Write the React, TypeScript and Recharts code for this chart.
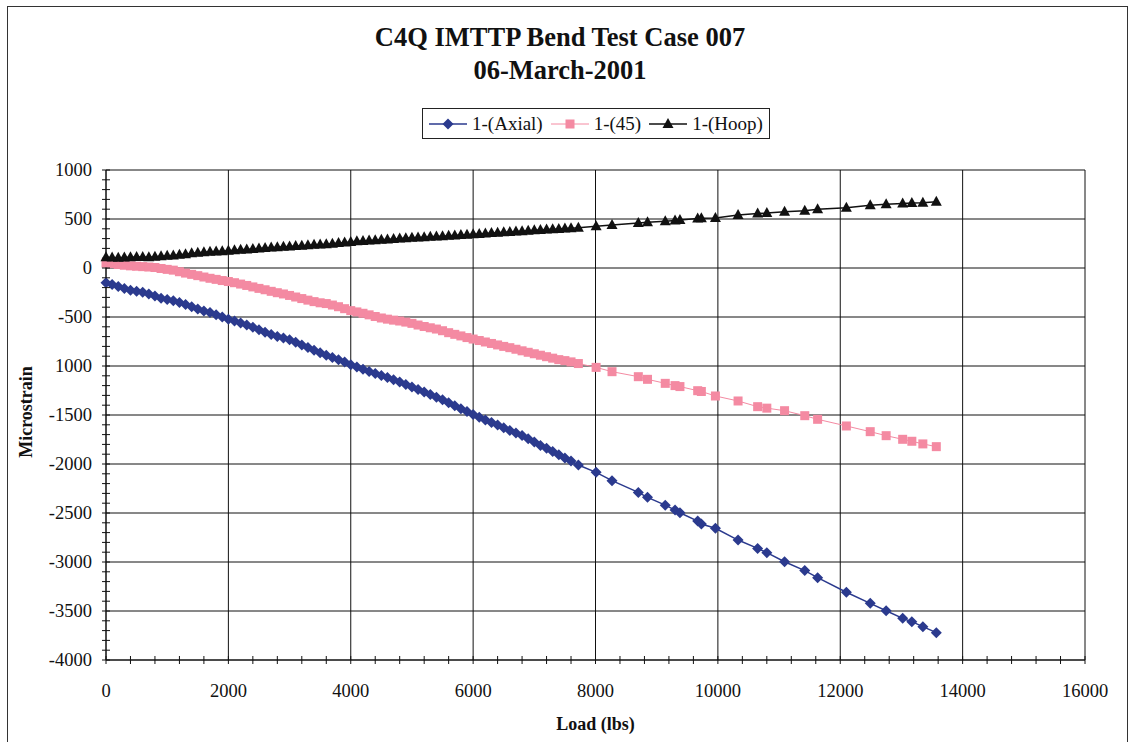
import {
  CartesianGrid,
  Line,
  LineChart,
  XAxis,
  YAxis,
} from "recharts";

// Load (lbs) readings, shared by the three gauges
const loads = [
  0, 100, 200, 300, 400, 500, 600, 700, 800, 900, 1000, 1100, 1200, 1300,
  1400, 1500, 1600, 1700, 1800, 1900, 2000, 2100, 2200, 2300, 2400, 2500,
  2600, 2700, 2800, 2900, 3000, 3100, 3200, 3300, 3400, 3500, 3600, 3700,
  3800, 3900, 4000, 4100, 4200, 4300, 4400, 4500, 4600, 4700, 4800, 4900,
  5000, 5100, 5200, 5300, 5400, 5500, 5600, 5700, 5800, 5900, 6000, 6100,
  6200, 6300, 6400, 6500, 6600, 6700, 6800, 6900, 7000, 7100, 7200, 7300,
  7400, 7500, 7600, 7720, 8010, 8270, 8700, 8850, 9140, 9300, 9380, 9670,
  9730, 9960, 10330, 10650, 10800, 11090, 11420, 11630, 12100, 12490, 12750,
  13020, 13170, 13350, 13570,
];

const axial = [
  -150, -168, -188, -210, -228, -238, -248, -265, -285, -308, -322, -335,
  -352, -372, -395, -418, -438, -455, -478, -500, -522, -540, -560, -582,
  -604, -630, -655, -678, -698, -715, -733, -758, -785, -812, -840, -865,
  -890, -912, -935, -960, -988, -1010, -1033, -1055, -1077, -1098, -1118,
  -1140, -1163, -1190, -1215, -1240, -1265, -1290, -1318, -1345, -1375,
  -1405, -1435, -1465, -1495, -1522, -1550, -1577, -1603, -1630, -1657,
  -1683, -1710, -1742, -1775, -1810, -1840, -1872, -1905, -1938, -1970,
  -2010, -2085, -2170, -2290, -2340, -2420, -2470, -2497, -2582, -2612,
  -2656, -2776, -2861, -2905, -2997, -3088, -3160, -3309, -3422, -3497,
  -3575, -3609, -3660, -3721,
];

const deg45 = [
  50, 44, 36, 28, 22, 18, 14, 10, 5, -5, -14, -22, -38, -52, -65, -78, -92,
  -105, -116, -128, -138, -150, -164, -178, -193, -208, -222, -238, -252,
  -265, -280, -296, -312, -328, -343, -355, -363, -378, -395, -415, -435,
  -448, -462, -478, -495, -510, -522, -532, -541, -552, -565, -582, -597,
  -610, -623, -640, -660, -677, -693, -710, -725, -740, -755, -770, -785,
  -800, -813, -829, -845, -860, -875, -890, -905, -920, -935, -945, -958,
  -975, -1014, -1058, -1109, -1136, -1177, -1200, -1210, -1252, -1260,
  -1306, -1357, -1415, -1430, -1456, -1507, -1544, -1612, -1670, -1711,
  -1748, -1768, -1795, -1823,
];

const hoop = [
  110, 106, 105, 108, 110, 112, 111, 110, 115, 120, 124, 128, 134, 141, 150,
  155, 160, 165, 168, 172, 177, 182, 187, 190, 194, 199, 203, 208, 212, 216,
  220, 224, 228, 232, 236, 240, 243, 248, 255, 260, 265, 272, 276, 280, 284,
  288, 292, 296, 300, 304, 308, 311, 315, 318, 321, 325, 328, 332, 336, 340,
  344, 348, 352, 356, 360, 364, 368, 372, 376, 380, 384, 388, 392, 395, 398,
  402, 406, 410, 425, 440, 460, 468, 478, 485, 490, 505, 507, 510, 540, 555,
  560, 575, 585, 600, 615, 640, 650, 658, 662, 665, 675,
];

const X_DOMAIN: [number, number] = [0, 16000];
const Y_DOMAIN: [number, number] = [-4000, 1000];

const xMajorTicks = [0, 2000, 4000, 6000, 8000, 10000, 12000, 14000, 16000];
const yMajorTicks = [1000, 500, 0, -500, -1000, -1500, -2000, -2500, -3000, -3500, -4000];
// labels as printed on the scanned sheet
const yTickLabels: Record<number, string> = {
  1000: "1000",
  500: "500",
  0: "0",
  [-500]: "-500",
  [-1000]: "1000",
  [-1500]: "-1500",
  [-2000]: "-2000",
  [-2500]: "-2500",
  [-3000]: "-3000",
  [-3500]: "-3500",
  [-4000]: "-4000",
};

const xMinorTicks = Array.from({ length: 41 }, (_, i) => i * 400);
const yMinorTicks = Array.from({ length: 51 }, (_, i) => 1000 - i * 100);

const data = loads.map((load, i) => ({
  load,
  axial: axial[i],
  deg45: deg45[i],
  hoop: hoop[i],
}));

const BLUE = "#2b3a8e";
const PINK = "#f48aa2";
const INK = "#111111";
const FONT = '"Liberation Serif", "Times New Roman", serif';
const TICK_MARGIN = 10;

function Diamond({ cx, cy, fill }: any) {
  if (cx == null || cy == null) return null;
  return (
    <polygon
      points={`${cx},${cy - 5.5} ${cx + 5.5},${cy} ${cx},${cy + 5.5} ${cx - 5.5},${cy}`}
      fill={fill}
    />
  );
}

function Square({ cx, cy, fill }: any) {
  if (cx == null || cy == null) return null;
  return <rect x={cx - 4.5} y={cy - 4.5} width={9} height={9} fill={fill} />;
}

function Triangle({ cx, cy, fill }: any) {
  if (cx == null || cy == null) return null;
  return (
    <polygon
      points={`${cx},${cy - 6} ${cx + 5.5},${cy + 4} ${cx - 5.5},${cy + 4}`}
      fill={fill}
    />
  );
}

function XTick({ x, y, payload }: any) {
  const axisY = y - TICK_MARGIN;
  const major = payload.value % 2000 === 0;
  return (
    <g>
      <line x1={x} x2={x} y1={axisY - 4} y2={axisY + 4} stroke={INK} />
      {major && (
        <text
          x={x}
          y={axisY + 37}
          textAnchor="middle"
          style={{ fontFamily: FONT, fontSize: 18.5 }}
          fill={INK}
        >
          {payload.value}
        </text>
      )}
    </g>
  );
}

function YTick({ x, y, payload }: any) {
  const axisX = x + TICK_MARGIN;
  const label = yTickLabels[payload.value];
  return (
    <g>
      <line x1={axisX - 4} x2={axisX + 4} y1={y} y2={y} stroke={INK} />
      {label !== undefined && (
        <text
          x={axisX - 14}
          y={y + 6}
          textAnchor="end"
          style={{ fontFamily: FONT, fontSize: 18.5 }}
          fill={INK}
        >
          {label}
        </text>
      )}
    </g>
  );
}

// major grid positions, from the axis scale when available, else from the plot offset
function gridX({ xAxis, offset }: any): number[] {
  if (xAxis && typeof xAxis.scale === "function") {
    return xMajorTicks.map((v) => xAxis.scale(v));
  }
  const [lo, hi] = X_DOMAIN;
  return xMajorTicks.map(
    (v) => offset.left + ((v - lo) / (hi - lo)) * offset.width,
  );
}

function gridY({ yAxis, offset }: any): number[] {
  if (yAxis && typeof yAxis.scale === "function") {
    return yMajorTicks.map((v) => yAxis.scale(v));
  }
  const [lo, hi] = Y_DOMAIN;
  return yMajorTicks.map(
    (v) => offset.top + ((hi - v) / (hi - lo)) * offset.height,
  );
}

const legendItems = [
  { name: "1-(Axial)", color: BLUE, Marker: Diamond, lineWidth: 1.5 },
  { name: "1-(45)", color: PINK, Marker: Square, lineWidth: 1 },
  { name: "1-(Hoop)", color: INK, Marker: Triangle, lineWidth: 1.5 },
];

function LegendBox() {
  return (
    <div
      style={{
        position: "absolute",
        left: 422,
        top: 108,
        display: "flex",
        alignItems: "center",
        border: "1px solid #222",
        padding: "2px 6px 2px 4px",
        background: "#fff",
        fontFamily: FONT,
        fontSize: 19,
        lineHeight: "25px",
        color: INK,
      }}
    >
      {legendItems.map(({ name, color, Marker, lineWidth }, i) => (
        <span
          key={name}
          style={{
            display: "flex",
            alignItems: "center",
            marginRight: i < legendItems.length - 1 ? 6 : 0,
          }}
        >
          <svg width={42} height={14}>
            <line
              x1={2}
              x2={40}
              y1={7}
              y2={7}
              stroke={color}
              strokeWidth={lineWidth}
            />
            <Marker cx={21} cy={7} fill={color} />
          </svg>
          <span style={{ marginLeft: 3 }}>{name}</span>
        </span>
      ))}
    </div>
  );
}

export default function App() {
  return (
    <div
      style={{
        position: "absolute",
        left: 0,
        top: 0,
        width: 1129,
        height: 742,
        background: "#fff",
        overflow: "hidden",
        fontFamily: FONT,
      }}
    >
      <div
        style={{
          position: "absolute",
          left: 7,
          top: 6,
          width: 1119,
          height: 760,
          border: "1px solid #333",
        }}
      />

      <div
        style={{
          position: "absolute",
          left: 0,
          top: 21,
          width: 1120,
          textAlign: "center",
          fontWeight: 700,
          fontSize: 26.5,
          lineHeight: "33px",
          color: INK,
        }}
      >
        <div>C4Q IMTTP Bend Test Case 007</div>
        <div>06-March-2001</div>
      </div>

      <div
        style={{
          position: "absolute",
          left: 0,
          top: 714,
          width: 1191,
          textAlign: "center",
          fontWeight: 700,
          fontSize: 18,
          color: INK,
        }}
      >
        Load (lbs)
      </div>

      <div
        style={{
          position: "absolute",
          left: 26,
          top: 412,
          transform: "translate(-50%, -50%) rotate(-90deg)",
          fontWeight: 700,
          fontSize: 18,
          color: INK,
          whiteSpace: "nowrap",
        }}
      >
        Microstrain
      </div>

      <LegendBox />

      <div style={{ position: "absolute", left: 0, top: 0 }}>
        <LineChart
          width={1129}
          height={742}
          data={data}
          margin={{ top: 170, right: 44, bottom: 52, left: 46 }}
        >
          <CartesianGrid
            stroke={INK}
            strokeWidth={1}
            verticalCoordinatesGenerator={gridX}
            horizontalCoordinatesGenerator={gridY}
          />
          <XAxis
            dataKey="load"
            type="number"
            domain={X_DOMAIN}
            ticks={xMinorTicks}
            interval={0}
            height={30}
            tickSize={0}
            tickMargin={TICK_MARGIN}
            tick={<XTick />}
            axisLine={{ stroke: INK }}
            tickLine={false}
          />
          <YAxis
            type="number"
            domain={Y_DOMAIN}
            ticks={yMinorTicks}
            interval={0}
            width={60}
            tickSize={0}
            tickMargin={TICK_MARGIN}
            tick={<YTick />}
            axisLine={{ stroke: INK }}
            tickLine={false}
          />
          <Line
            dataKey="axial"
            name="1-(Axial)"
            stroke={BLUE}
            strokeWidth={1.5}
            dot={(p: any) => <Diamond key={`a${p.index}`} {...p} fill={BLUE} />}
            activeDot={false}
            isAnimationActive={false}
          />
          <Line
            dataKey="deg45"
            name="1-(45)"
            stroke={PINK}
            strokeWidth={1}
            dot={(p: any) => <Square key={`p${p.index}`} {...p} fill={PINK} />}
            activeDot={false}
            isAnimationActive={false}
          />
          <Line
            dataKey="hoop"
            name="1-(Hoop)"
            stroke={INK}
            strokeWidth={1.5}
            dot={(p: any) => <Triangle key={`h${p.index}`} {...p} fill={INK} />}
            activeDot={false}
            isAnimationActive={false}
          />
        </LineChart>
      </div>
    </div>
  );
}
